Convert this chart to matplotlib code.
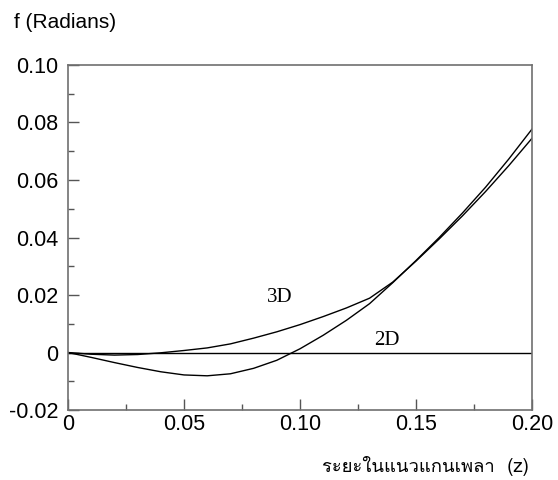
import matplotlib
matplotlib.use("Agg")
import matplotlib.pyplot as plt
from matplotlib import font_manager
from matplotlib.ticker import MultipleLocator, FixedLocator, FixedFormatter
from matplotlib.ft2font import FT2Font

z = [0.00, 0.01, 0.02, 0.03, 0.04, 0.05, 0.06, 0.07, 0.08, 0.09, 0.10,
     0.11, 0.12, 0.13, 0.14, 0.15, 0.16, 0.17, 0.18, 0.19, 0.20]
curve_3d = [0.0, -0.0006, -0.0009, -0.0007, -0.0001, 0.0007, 0.0016, 0.0030,
            0.0050, 0.0072, 0.0097, 0.0125, 0.0155, 0.0189, 0.0245, 0.0318,
            0.0395, 0.0475, 0.0560, 0.0650, 0.0745]
curve_b = [0.0, -0.0017, -0.0035, -0.0052, -0.0067, -0.0078, -0.0081, -0.0074,
           -0.0055, -0.0027, 0.0013, 0.0060, 0.0112, 0.0170, 0.0243, 0.0320,
           0.0400, 0.0485, 0.0575, 0.0673, 0.0777]
curve_2d = [0.0] * len(z)

xticks = [0, 0.05, 0.10, 0.15, 0.20]
xticklabels = ["0", "0.05", "0.10", "0.15", "0.20"]
yticks = [-0.02, 0, 0.02, 0.04, 0.06, 0.08, 0.10]
yticklabels = ["-0.02", "0", "0.02", "0.04", "0.06", "0.08", "0.10"]

# find a font with Thai glyphs
thai_font = None
for f in font_manager.fontManager.ttflist:
    try:
        cm = FT2Font(f.fname).get_charmap()
        if 0x0E23 in cm and 0x0E40 in cm:
            thai_font = f.name
            break
    except Exception:
        pass

sans = "Liberation Sans"
fig = plt.figure(figsize=(5.58, 4.8), dpi=100)
ax = fig.add_axes([0.1219, 0.1458, 0.8315, 0.7188])

ax.plot(z, curve_2d, color="black", lw=1.0)
ax.plot(z, curve_3d, color="black", lw=1.0)
ax.plot(z, curve_b, color="black", lw=1.0)

ax.set_xlim(0, 0.20)
ax.set_ylim(-0.02, 0.10)
ax.xaxis.set_major_locator(FixedLocator(xticks))
ax.xaxis.set_major_formatter(FixedFormatter(xticklabels))
ax.yaxis.set_major_locator(FixedLocator(yticks))
ax.yaxis.set_major_formatter(FixedFormatter(yticklabels))
ax.xaxis.set_minor_locator(MultipleLocator(0.025))
ax.yaxis.set_minor_locator(MultipleLocator(0.01))
ax.tick_params(which="both", direction="in", top=False, right=False,
               color="#555555", width=1.0, labelsize=15.5)
ax.tick_params(which="major", length=8)
ax.tick_params(which="minor", length=4)
ax.tick_params(axis="y", pad=7)
ax.tick_params(axis="x", pad=3)
for lab in ax.get_xticklabels() + ax.get_yticklabels():
    lab.set_fontfamily(sans)
for s in ax.spines.values():
    s.set_color("#707070")
    s.set_linewidth(1.2)

ax.text(0.0914, 0.0193, "3D", fontfamily="Liberation Serif", fontsize=15,
        ha="center", va="center")
ax.text(0.1375, 0.0043, "2D", fontfamily="Liberation Serif", fontsize=15,
        ha="center", va="center")

fig.text(14 / 558, 1 - 22 / 480, "f (Radians)", fontfamily=sans, fontsize=15,
         ha="left", va="center")
fams = [thai_font, sans] if thai_font else [sans]
fig.text(529 / 558, 1 - 466 / 480, "ระยะในแนวแกนเพลา  (z)", fontfamily=fams,
         fontsize=13.3, ha="right", va="center")

fig.savefig("out.png", dpi=100)
